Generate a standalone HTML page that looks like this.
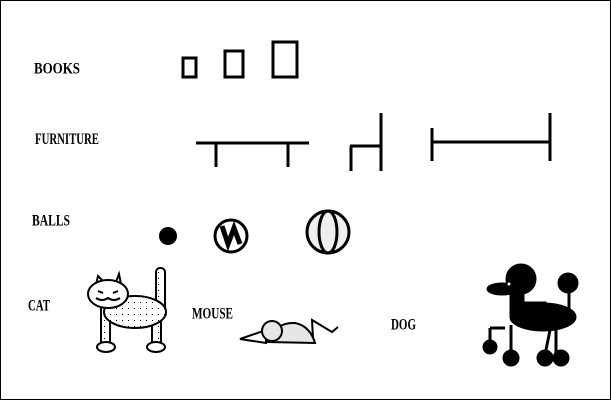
<!DOCTYPE html>
<html><head><style>
body{margin:0;background:#fff}
svg{display:block}
text{font-family:"Liberation Serif",serif;font-weight:bold;font-size:10px;fill:#000}
</style></head><body>
<svg width="611" height="400" viewBox="0 0 611 400" xmlns="http://www.w3.org/2000/svg">
<defs>
<pattern id="dots" width="6" height="6" patternUnits="userSpaceOnUse"><rect width="6" height="6" fill="#fff"/><rect x="2" y="2" width="1" height="1" fill="#000"/></pattern>
</defs>
<rect x="0.5" y="0.5" width="610" height="399" fill="#fff" stroke="#000"/>
<g transform="scale(1,1.6)">
<text x="34" y="46" textLength="46" lengthAdjust="spacingAndGlyphs">BOOKS</text>
<text x="35" y="90" textLength="64" lengthAdjust="spacingAndGlyphs">FURNITURE</text>
<text x="32" y="141" textLength="38" lengthAdjust="spacingAndGlyphs">BALLS</text>
<text x="28" y="194" textLength="22" lengthAdjust="spacingAndGlyphs">CAT</text>
<text x="192" y="199" textLength="41" lengthAdjust="spacingAndGlyphs">MOUSE</text>
<text x="391" y="206" textLength="25" lengthAdjust="spacingAndGlyphs">DOG</text>
</g>
<g fill="none" stroke="#000" stroke-width="3">
<rect x="183" y="58" width="13" height="19"/>
<rect x="225" y="51" width="18" height="26"/>
<rect x="273" y="42" width="24" height="35"/>
<path d="M196 143H309M216 143V167M288 143V167"/>
<path d="M381 113V171M350 146H381M351 146V171"/>
<path d="M432 128V161M432 142H550M550 113V161"/>
</g>
<circle cx="168" cy="236" r="9" fill="#000"/>
<circle cx="231" cy="236" r="16" fill="#fff" stroke="#000" stroke-width="3"/>
<path d="M222 226 L228 244 L234 228 L240 244" stroke="#000" stroke-width="5" fill="none"/>
<circle cx="328" cy="232" r="21" fill="#eee" stroke="#000" stroke-width="3"/>
<ellipse cx="328" cy="232" rx="9" ry="21" fill="none" stroke="#000" stroke-width="3"/>
<g stroke="#000" stroke-width="2">
<rect x="156" y="268" width="9" height="50" rx="4" fill="url(#dots)"/>
<rect x="101" y="305" width="9" height="42" fill="url(#dots)"/>
<rect x="152" y="305" width="9" height="42" fill="url(#dots)"/>
<ellipse cx="135" cy="312" rx="31" ry="16" fill="url(#dots)"/>
<path d="M96 285 L98 276 L104 282 M116 282 L119 274 L121 284" fill="#fff"/>
<ellipse cx="108" cy="294" rx="20" ry="14" fill="#fff"/>
<ellipse cx="106" cy="347" rx="9" ry="5" fill="#fff"/>
<ellipse cx="156" cy="347" rx="9" ry="5" fill="#fff"/>
<path d="M98 291l5 2M118 291l-5 2M96 298q6 4 12 0q6 4 12 0" fill="none"/>
<path d="M268 342 Q275 322 295 323 Q310 326 315 343 Z" fill="#e6e6e6"/>
<path d="M240 339 L266 330 L266 343 Z" fill="#fff"/>
<circle cx="272" cy="331" r="10" fill="#e6e6e6"/>
<path d="M313 338 L312 320 L332 332 L338 327" fill="none"/>
</g>
<g fill="#000" stroke="#000">
<circle cx="521" cy="279" r="15"/>
<ellipse cx="502" cy="289" rx="15" ry="6"/>
<ellipse cx="543" cy="317" rx="33" ry="14"/>
<rect x="510" y="285" width="14" height="30"/>
<rect x="520" y="302" width="26" height="10"/>
<circle cx="568" cy="283" r="10"/>
<path d="M569 290V310M490 328H505M490 328V345M511 325V355M551 325L545 355M556 325V355" stroke-width="3" fill="none"/>
<circle cx="490" cy="347" r="7"/>
<circle cx="511" cy="358" r="8"/>
<circle cx="545" cy="358" r="8"/>
<circle cx="561" cy="358" r="8"/>
</g>
<circle cx="509" cy="284" r="1.5" fill="#fff"/>
</svg>
</body></html>
